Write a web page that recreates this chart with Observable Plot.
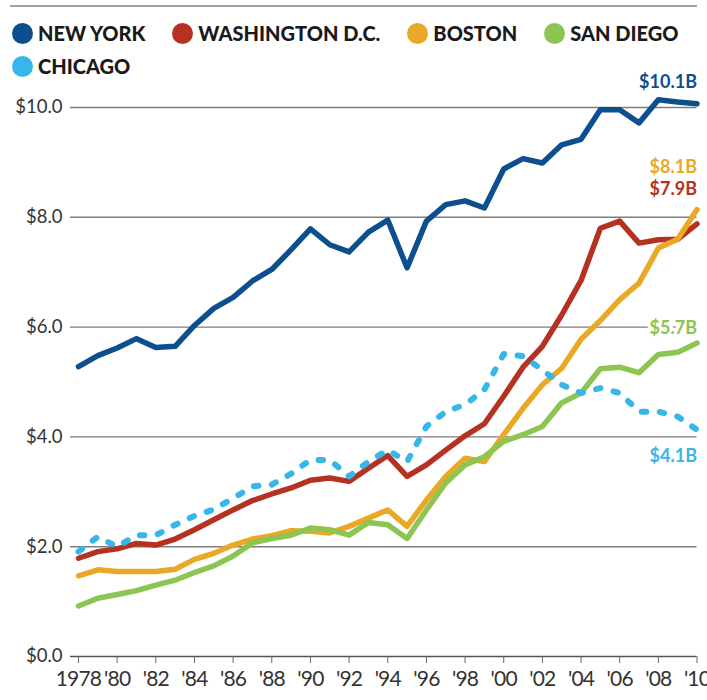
<!DOCTYPE html>
<html><head><meta charset="utf-8">
<script src="https://cdn.jsdelivr.net/npm/d3@7"></script>
<script src="https://cdn.jsdelivr.net/npm/@observablehq/plot@0.6"></script>
<style>
body{margin:0;background:#fff;}
#wrap{position:relative;width:707px;height:700px;overflow:hidden;}
#topline{position:absolute;left:10px;right:10px;top:5px;height:2px;background:#a0a0a0;}
#legend{position:absolute;left:12px;top:22px;width:690px;display:flex;flex-wrap:wrap;column-gap:27px;row-gap:11px;font-family:Lato,"Open Sans",sans-serif;font-weight:900;font-size:20px;color:#1a1a1a;z-index:2;}
.item{display:flex;align-items:center;height:22px;white-space:nowrap;}
.sw{width:21px;height:21px;border-radius:50%;margin-right:5px;flex:none;}
#chart{position:absolute;left:0;top:0;}
g[aria-label="x-axis tick label"] text{letter-spacing:-0.8px;}
</style>
</head><body>
<div id="wrap"><div id="topline"></div><div id="legend"></div><div id="chart"></div></div>
<script>
const years = [1978,1979,1980,1981,1982,1983,1984,1985,1986,1987,1988,1989,1990,1991,1992,1993,1994,1995,1996,1997,1998,1999,2000,2001,2002,2003,2004,2005,2006,2007,2008,2009,2010];
const cities = ["NEW YORK","WASHINGTON D.C.","BOSTON","SAN DIEGO","CHICAGO"];
const colors = ["#0d4f8e","#b53222","#e9a826","#8dc553","#36b6e9"];
const newYork = [5.28,5.48,5.62,5.79,5.63,5.65,6.03,6.34,6.54,6.84,7.05,7.41,7.79,7.50,7.37,7.73,7.95,7.08,7.93,8.23,8.30,8.17,8.88,9.07,8.99,9.32,9.42,9.96,9.96,9.72,10.14,10.10,10.07];
const washington = [1.79,1.91,1.96,2.06,2.03,2.14,2.31,2.49,2.67,2.84,2.96,3.07,3.21,3.25,3.19,3.43,3.66,3.28,3.49,3.76,4.02,4.24,4.74,5.27,5.65,6.22,6.85,7.80,7.93,7.53,7.59,7.60,7.88];
const boston = [1.47,1.58,1.55,1.55,1.55,1.59,1.77,1.88,2.03,2.14,2.20,2.29,2.28,2.25,2.37,2.52,2.67,2.37,2.85,3.28,3.61,3.55,4.04,4.52,4.95,5.25,5.78,6.12,6.50,6.80,7.44,7.60,8.14];
const sanDiego = [0.92,1.06,1.13,1.20,1.30,1.39,1.53,1.65,1.83,2.07,2.15,2.21,2.34,2.31,2.21,2.44,2.40,2.15,2.67,3.16,3.49,3.64,3.92,4.04,4.19,4.62,4.80,5.24,5.27,5.17,5.50,5.54,5.71];
const chicago = [1.91,2.18,2.00,2.21,2.21,2.40,2.56,2.68,2.88,3.10,3.13,3.33,3.58,3.58,3.28,3.55,3.76,3.55,4.19,4.46,4.59,4.86,5.51,5.47,5.22,4.95,4.80,4.89,4.80,4.46,4.46,4.37,4.13];
const endLabels = ["$10.1B","$7.9B","$8.1B","$5.7B","$4.1B"];
const yTicks = [0,2,4,6,8,10];
const xTicks = [1978,1980,1982,1984,1986,1988,1990,1992,1994,1996,1998,2000,2002,2004,2006,2008,2010];

const seriesValues = [newYork, washington, boston, sanDiego, chicago];
const labelDy = [-21,-35,-42,-15,26];

const data = cities.flatMap((c, k) => years.map((yr, i) => ({city: c, year: yr, value: seriesValues[k][i]})));
const last = cities.map((c, k) => ({city: c, year: years[years.length-1], value: seriesValues[k][years.length-1], label: endLabels[k], dy: labelDy[k]}));

// legend
const lg = document.getElementById("legend");
cities.forEach((c, k) => {
  const it = document.createElement("div"); it.className = "item";
  const sw = document.createElement("span"); sw.className = "sw"; sw.style.background = colors[k];
  const tx = document.createElement("span"); tx.textContent = c;
  it.appendChild(sw); it.appendChild(tx); lg.appendChild(it);
});

const solid = data.filter(d => d.city !== "CHICAGO");
const dashed = data.filter(d => d.city === "CHICAGO");

const chart = Plot.plot({
  width: 707, height: 700,
  marginLeft: 78, marginRight: 10.5, marginTop: 107, marginBottom: 44,
  style: {background: "transparent", color: "#333"},
  x: {domain: [1978, 2010]},
  y: {domain: [0, 10]},
  color: {domain: cities, range: colors},
  marks: [
    Plot.ruleY(yTicks.filter(d => d > 0), {stroke: "#7d7d7d", strokeWidth: 1.4, insetLeft: -8}),
    Plot.ruleY([0], {stroke: "#555", strokeWidth: 1.4, insetLeft: -8}),
    Plot.axisY({ticks: yTicks, tickSize: 0, tickPadding: 16, tickFormat: d => "$" + d.toFixed(1), fontSize: 18.5, fontFamily: "Lato, sans-serif", fill: "#333", label: null}),
    Plot.axisX({ticks: xTicks, tickSize: 7, tickPadding: 8, stroke: "#666", tickFormat: d => d === 1978 ? "1978" : "'" + String(d).slice(2), fontSize: 21, fontFamily: "Lato, sans-serif", fill: "#333", label: null}),
    Plot.line(solid, {x: "year", y: "value", z: "city", stroke: "city", strokeWidth: 5.5, strokeLinejoin: "round", strokeLinecap: "round"}),
    Plot.line(dashed, {x: "year", y: "value", stroke: "city", strokeWidth: 6, strokeLinejoin: "round", strokeLinecap: "round", strokeDasharray: "4.5,13.5"}),
    Plot.text(last, {x: "year", y: "value", text: "label", textAnchor: "end", fill: "city", stroke: "white", strokeWidth: 7, paintOrder: "stroke", fontWeight: 700, fontSize: 18, fontFamily: "Lato, sans-serif"})
  ]
});
// apply per-label vertical offsets
const texts = chart.querySelectorAll("g[aria-label='text'] text");
texts.forEach((t, i) => { t.setAttribute("dy", last[i].dy); });
document.getElementById("chart").appendChild(chart);
</script>
</body></html>
